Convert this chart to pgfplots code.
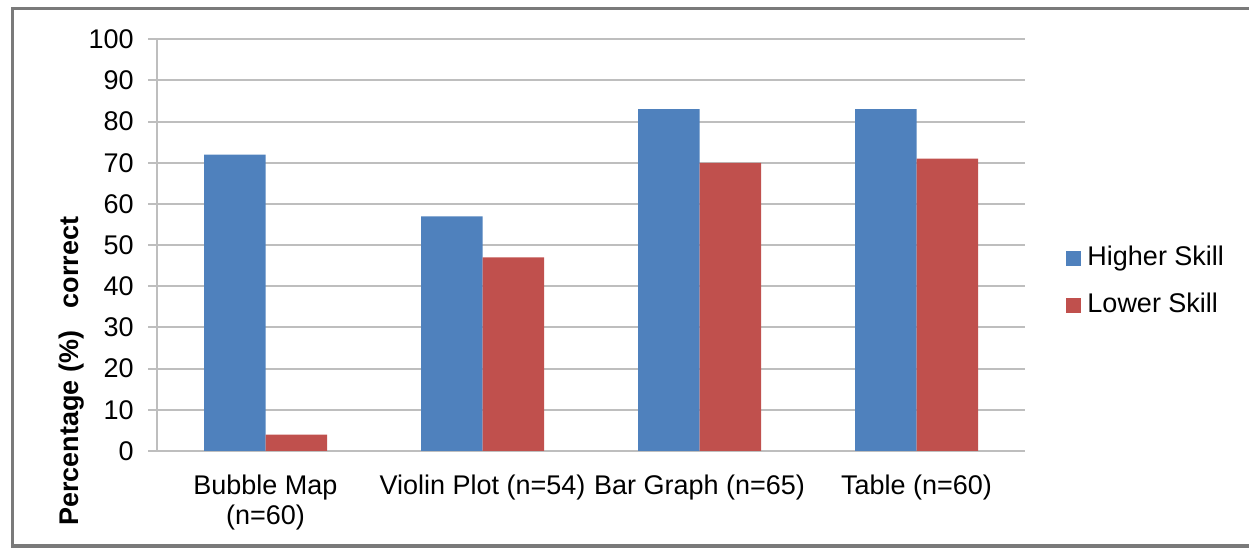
\documentclass[border=0pt]{standalone}
\usepackage{fontspec}
\setmainfont{Liberation Sans}
\usepackage{pgfplots}
\pgfplotsset{compat=1.18}

\definecolor{skillhi}{HTML}{4F81BD}
\definecolor{skilllo}{HTML}{C0504D}
\definecolor{gridgray}{HTML}{BEBEBE}
\definecolor{framegray}{HTML}{7A7A7A}
\newcommand\lbl{\fontsize{10.8}{12}\selectfont}

\begin{document}
\begin{tikzpicture}
% page size and the chart frame (open on the right)
\path[use as bounding box] (-62.8pt,-41.2pt) rectangle (436.8pt,180.4pt);
\draw[framegray, line width=1.2pt] (436.8pt,176.8pt) -- (-57.6pt,176.8pt) -- (-57.6pt,-38pt) -- (436.8pt,-38pt);

\begin{axis}[
  scale only axis,
  width=347.2pt, height=164.7pt,
  ybar=0pt, bar width=24.6pt,
  xmin=-0.5, xmax=3.5,
  ymin=0, ymax=100,
  ytick={0,10,...,100},
  xtick={0,1,2,3},
  xticklabels={{Bubble Map\\(n=60)},{Violin Plot (n=54)},{Bar Graph (n=65)},{Table (n=60)}},
  xticklabel style={align=center, font=\lbl, yshift=-2.4pt},
  yticklabel style={font=\lbl, xshift=-2.2pt},
  /pgf/number format/assume math mode=true,
  axis lines*=left,
  axis line style={gridgray, line width=0.8pt},
  ymajorgrids,
  grid style={gridgray, line width=0.8pt},
  tick align=outside,
  major tick length=3.6pt,
  ytick style={gridgray, line width=0.8pt},
  xtick style={draw=none},
  ylabel={\textbf{Percentage (\%)\hspace{0.55em} correct}},
  ylabel style={font=\lbl, at={(rel axis cs:-0.0985,0.194)}, anchor=center},
  legend style={
    at={(rel axis cs:1.0472,0.411)}, anchor=west,
    draw=none, fill=none, font=\lbl, inner sep=0pt,
    row sep=8.8pt, column sep=2.4pt,
    nodes={inner sep=0pt, text height=7.8pt, text depth=2.2pt},
    cells={anchor=west},
  },
  legend image code/.code={\draw[#1, draw=none] (0pt,-3pt) rectangle (6pt,3pt);},
]
\addplot[fill=skillhi, draw=none] coordinates {(0,72) (1,57) (2,83) (3,83)};
\addplot[fill=skilllo, draw=none] coordinates {(0,4) (1,47) (2,70) (3,71)};
\legend{Higher Skill, Lower Skill}
\end{axis}
\end{tikzpicture}
\end{document}
